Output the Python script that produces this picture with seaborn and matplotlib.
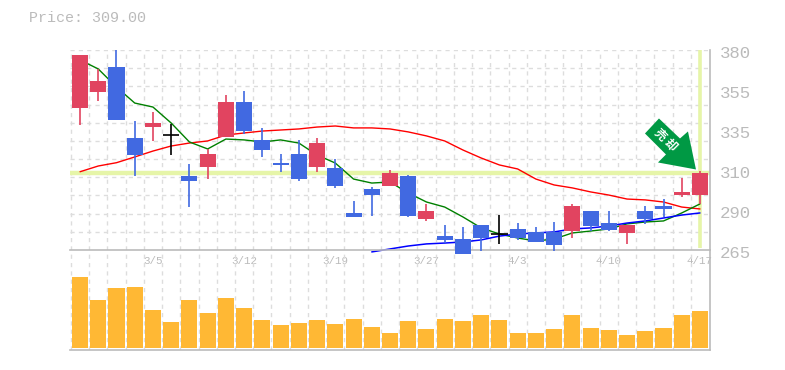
import numpy as np
import pandas as pd
import matplotlib
matplotlib.use('Agg')
import matplotlib.pyplot as plt
from matplotlib.patches import Polygon
from matplotlib.transforms import Affine2D, ScaledTranslation
import seaborn as sns

opens = [346.8, 355.9, 370.2, 329.4, 335.7, 331.0, 307.6, 312.7, 330.0, 350.1, 328.3, 315.0,
         320.2, 312.7, 312.2, 286.3, 300.1, 301.8, 307.6, 282.8, 273.0, 271.3, 279.4, 274.0,
         277.1, 275.4, 275.4, 275.9, 287.4, 280.5, 274.8, 287.4, 290.3, 296.6, 296.6]
closes = [377.1, 362.2, 339.8, 319.6, 338.2, 331.0, 304.7, 320.2, 350.1, 333.4, 322.5, 313.9,
          305.8, 326.5, 301.8, 284.0, 296.6, 309.3, 284.6, 287.4, 270.8, 262.7, 271.9, 274.0,
          271.9, 269.6, 267.9, 290.3, 278.8, 276.5, 279.4, 282.8, 288.6, 298.4, 309.0]
highs = [377.1, 368.9, 380.0, 339.2, 344.4, 337.5, 314.5, 323.1, 354.1, 356.4, 335.2, 320.2,
         328.3, 329.4, 317.3, 293.2, 301.2, 311.0, 308.1, 291.5, 279.4, 278.2, 279.4, 285.1,
         280.5, 278.2, 281.1, 291.5, 287.4, 287.4, 279.4, 290.3, 294.3, 306.4, 310.4]
lows = [336.9, 350.7, 339.8, 307.6, 327.7, 319.6, 289.7, 305.8, 330.0, 331.7, 318.5, 309.9,
        304.7, 309.9, 300.7, 284.0, 284.6, 301.8, 284.0, 281.7, 269.0, 262.7, 264.4, 268.5,
        270.8, 269.6, 264.4, 271.9, 275.9, 275.9, 268.5, 280.0, 284.0, 295.5, 291.5]
volume = [71, 48, 60, 61, 38, 26, 48, 35, 50, 40, 28, 23, 25, 28, 24, 29, 21, 15,
          27, 19, 29, 27, 33, 28, 15, 15, 19, 33, 20, 18, 13, 17, 20, 33, 37]
ma_short = [374.3, 369.1, 358.7, 349.5, 347.2, 338.0, 327.1, 323.1, 328.8, 328.3, 327.1, 328.3,
            326.5, 319.6, 315.0, 305.8, 303.5, 304.1, 297.8, 292.6, 289.7, 284.0, 277.7, 274.2,
            271.9, 270.2, 271.3, 274.8, 275.9, 277.1, 280.0, 281.1, 281.7, 286.3, 291.5]
ma_mid = [310.0, 313.3, 315.2, 318.5, 321.9, 324.8, 326.5, 327.7, 331.1, 332.3, 333.4, 334.0,
          334.6, 335.7, 336.3, 335.2, 335.2, 334.6, 332.9, 330.6, 327.7, 322.5, 317.9, 313.9,
          311.6, 305.8, 302.4, 300.7, 298.4, 296.6, 294.3, 293.8, 292.6, 289.7, 288.6]
ma_long = [263.9, 265.6, 267.3, 268.5, 269.0, 269.6, 270.8, 273.0, 274.2, 274.8,
           275.4, 277.1, 277.7, 278.8, 280.5, 281.7, 283.4, 285.1, 286.3]
date_pos = [4, 9, 14, 19, 24, 29, 34]
date_labels = ['3/5', '3/12', '3/19', '3/27', '4/3', '4/10', '4/17']
price_ticks = [265, 288, 311, 334, 357, 380]
price_labels = ['265', '290', '310', '335', '355', '380']
last_price = 309.0

RED = '#e14460'
BLUE = '#4169e1'
GREY = '#bbbbbb'
BAND = '#e6f5a8'
MONO = 'Liberation Mono'

df = pd.DataFrame({'i': np.arange(35), 'open': opens, 'close': closes, 'high': highs,
                   'low': lows, 'volume': volume, 'short': ma_short, 'mid': ma_mid})
df['long'] = [np.nan] * (35 - len(ma_long)) + ma_long

sns.set_theme(style='white')
W, H = 785, 370
fig = plt.figure(figsize=(W / 100, H / 100), dpi=100)
ax = fig.add_axes([70 / W, 1 - 250 / H, 640 / W, 200 / H])
vax = fig.add_axes([70 / W, 1 - 350 / H, 640 / W, 100 / H])
xlim = (-0.55, 34.55)

for a in (ax, vax):
    a.set_xlim(*xlim)
    a.set_facecolor('none')
    a.set_axisbelow(True)
    a.vlines(np.arange(35) - 0.5, 0, 1, transform=a.get_xaxis_transform(),
             color='#dddddd', lw=1, ls=(0, (3, 3)), zorder=0)
    for s in a.spines.values():
        s.set_visible(False)
    a.spines['bottom'].set_visible(True)
    a.spines['bottom'].set_color(GREY)
    a.spines['right'].set_visible(True)
    a.spines['right'].set_color(GREY)
    a.spines['bottom'].set_linewidth(1.2)
    a.spines['right'].set_linewidth(1.2)

# price panel
ax.set_ylim(265, 380)
ax.hlines(np.linspace(265, 380, 12)[1:], 0, 1, transform=ax.get_yaxis_transform(),
          color='#dddddd', lw=1, ls=(0, (3, 3)), zorder=0)
ax.axhline(last_price, color=BAND, lw=3.2, zorder=1)
ax.plot([34, 34], [266, 380], color=BAND, lw=2.6, zorder=1, solid_capstyle='butt')

sns.lineplot(data=df, x='i', y='mid', color='#ff0000', lw=1.0, ax=ax, zorder=2, errorbar=None)
sns.lineplot(data=df, x='i', y='short', color='#008000', lw=1.0, ax=ax, zorder=2, errorbar=None)
line = sns.lineplot(data=df.dropna(), x='i', y='long', color='#0000ff', lw=1.1, ax=ax, zorder=2,
                    errorbar=None).lines[-1]
line.set_clip_on(False)

for row in df.itertuples():
    if row.close == row.open:
        ax.vlines(row.i, row.low, row.high, color='black', lw=1.2, zorder=3, clip_on=False)
        ax.hlines(row.close, row.i - 0.45, row.i + 0.45, color='black', lw=1.2, zorder=3)
        continue
    c = RED if row.close > row.open else BLUE
    ax.vlines(row.i, row.low, row.high, color=c, lw=1.2, zorder=3, clip_on=False)
    ax.bar(row.i, abs(row.close - row.open), bottom=min(row.open, row.close), width=0.88,
           color=c, lw=0, zorder=4, clip_on=False)

# sell signal arrow, outline in pixels relative to the last close
anchor = ax.transData.transform((34, last_price))
arrow_shape = [(-41, -55), (-20, -35), (-12, -42), (-4, -4), (-42, -11), (-34, -19), (-55, -40)]
arrow_tf = Affine2D().scale(1, -1).translate(*anchor)
ax.add_patch(Polygon(arrow_shape, closed=True, transform=arrow_tf, color='#009944', lw=0,
                     zorder=5, clip_on=False))
ax.annotate('売 却', xy=(34, last_price), xytext=(-24.8, 24.1), textcoords='offset points',
            rotation=-45, color='white', fontsize=8.5, fontweight='bold', ha='center', va='center',
            family=['Noto Sans CJK JP', 'DejaVu Sans'], zorder=6, rotation_mode='anchor',
            annotation_clip=False)

ax.set_yticks(price_ticks)
ax.set_yticklabels(price_labels, family=MONO, fontsize=12.5, color=GREY)
ax.yaxis.tick_right()
ax.tick_params(axis='y', length=0, pad=7)
for t in ax.get_yticklabels():
    t.set_verticalalignment('top')
    t.set_transform(t.get_transform() + ScaledTranslation(0, 4 / 100, fig.dpi_scale_trans))
ax.set_xticks(date_pos)
ax.set_xticklabels(date_labels, family=MONO, fontsize=7.8, color=GREY)
ax.tick_params(axis='x', length=0, pad=4.5)
ax.set_xlabel('')
ax.set_ylabel('')

# volume panel
vax.set_ylim(-2, 98)
sns.barplot(data=df, x='i', y='volume', native_scale=True, color='#ffb834', width=0.88, saturation=1,
            ax=vax, zorder=2, linewidth=0)
vax.set_xlim(*xlim)
vax.set_xticks([])
vax.set_yticks([])
vax.set_xlabel('')
vax.set_ylabel('')

fig.text(29 / W, 1 - 18 / H, 'Price: 309.00', family=MONO, fontsize=10.8, color=GREY, va='center', ha='left')
fig.savefig('out.png', dpi=100, facecolor='white')
